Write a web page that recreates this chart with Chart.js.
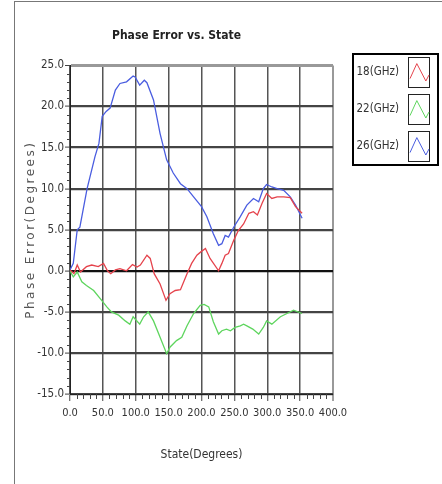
<!DOCTYPE html>
<html>
<head>
<meta charset="utf-8">
<script src="https://cdn.jsdelivr.net/npm/chart.js@4.4.1/dist/chart.umd.min.js"></script>
<style>
html, body { margin: 0; padding: 0; background: #fff; }
#wrap { position: relative; width: 442px; height: 484px; overflow: hidden; }
#frame { position: absolute; left: 14px; top: 1px; width: 440px; height: 490px; border-left: 1px solid #777; border-top: 1px solid #777; }
canvas { position: absolute; left: 0; top: 0; }
</style>
</head>
<body>
<div id="wrap"><div id="frame"></div><canvas id="chart" width="442" height="484"></canvas></div>
<script>
const xTicks = [0, 50, 100, 150, 200, 250, 300, 350, 400];
const yTicks = [-15, -10, -5, 0, 5, 10, 15, 20, 25];
const seriesLabels = ['18(GHz)', '22(GHz)', '26(GHz)'];
const seriesColors = ['#e5434c', '#5ed55e', '#4a5de0'];

const state18 = [0, 6, 11, 16, 25, 33, 43, 51, 57, 62, 69, 76, 86, 95, 102, 107, 117, 122, 128, 137, 146, 152, 160, 168, 178, 185, 193, 199, 206, 213, 226, 231, 236, 241, 249, 256, 264, 272, 279, 285, 292, 299, 307, 315, 325, 335, 343, 353];
const phase18 = [0.1, -0.35, 0.7, -0.15, 0.5, 0.7, 0.5, 0.9, 0, -0.35, 0.1, 0.25, 0, 0.75, 0.45, 0.7, 1.9, 1.5, -0.35, -1.6, -3.6, -2.8, -2.4, -2.3, -0.35, 0.9, 1.9, 2.3, 2.7, 1.5, 0, 0.9, 1.9, 2.1, 3.7, 4.9, 5.7, 7, 7.2, 6.8, 8.2, 9.4, 8.8, 9, 9, 8.9, 7.8, 7];

const state22 = [0, 5, 11, 18, 25, 36, 46, 56, 63, 74, 84, 91, 96, 106, 112, 119, 127, 137, 147, 152, 162, 170, 178, 188, 198, 204, 211, 218, 226, 231, 238, 244, 251, 259, 264, 269, 278, 287, 294, 299, 307, 320, 330, 340, 353];
const phase22 = [0, -0.75, -0.15, -1.35, -1.8, -2.4, -3.4, -4.4, -5, -5.4, -6.1, -6.5, -5.6, -6.5, -5.6, -5, -6.1, -8.1, -10.1, -9.3, -8.5, -8.1, -6.7, -5.2, -4.2, -4.1, -4.4, -6.2, -7.7, -7.3, -7.1, -7.3, -6.9, -6.7, -6.5, -6.7, -7.1, -7.7, -6.9, -6.1, -6.5, -5.6, -5.2, -4.8, -5.2];

const state26 = [0, 5, 11, 15, 26, 38, 44, 49, 55, 61, 69, 76, 86, 96, 99, 106, 113, 117, 127, 137, 147, 157, 168, 178, 188, 200, 208, 218, 226, 231, 236, 241, 249, 259, 269, 279, 287, 294, 299, 307, 315, 325, 335, 343, 353];
const phase26 = [0.1, 0.9, 5, 5.3, 10, 13.9, 15.5, 18.8, 19.4, 19.8, 22, 22.8, 23, 23.7, 23.6, 22.6, 23.2, 22.9, 20.8, 16.7, 13.5, 11.9, 10.6, 10, 9, 7.8, 6.6, 4.5, 3.1, 3.3, 4.3, 4.1, 5.3, 6.6, 8, 8.8, 8.4, 10, 10.5, 10.2, 10, 9.8, 9, 8, 6.4];

const NARROW = "'Liberation Sans Narrow', 'DejaVu Sans Condensed', 'Liberation Sans', sans-serif";
const yTitle = 'Phase Error(Degrees)';

const toPoints = (xs, ys) => xs.map((x, i) => ({ x, y: ys[i] }));
const allSeries = [[state18, phase18], [state22, phase22], [state26, phase26]];

// small ticks between the labelled ones, plus the spaced-out y title
const minorTicks = {
  id: 'minorTicks',
  afterDatasetsDraw(chart) {
    const { ctx, chartArea: a, scales: { x, y } } = chart;
    ctx.save();
    ctx.strokeStyle = '#444';
    ctx.lineWidth = 1;
    for (let v = xTicks[0]; v <= xTicks[xTicks.length - 1]; v += 10) {
      if (xTicks.includes(v)) continue;
      const px = Math.round(x.getPixelForValue(v)) + 0.5;
      ctx.beginPath(); ctx.moveTo(px, a.bottom); ctx.lineTo(px, a.bottom + 5); ctx.stroke();
    }
    for (let v = yTicks[0]; v <= yTicks[yTicks.length - 1]; v += 1) {
      if (yTicks.includes(v)) continue;
      const py = Math.round(y.getPixelForValue(v)) + 0.5;
      ctx.beginPath(); ctx.moveTo(a.left - 3, py); ctx.lineTo(a.left, py); ctx.stroke();
    }
    ctx.translate(31, (a.top + a.bottom) / 2);
    ctx.rotate(-Math.PI / 2);
    ctx.fillStyle = '#555';
    ctx.font = "12px 'DejaVu Sans', sans-serif";
    ctx.letterSpacing = '2.5px';
    ctx.textAlign = 'center';
    ctx.textBaseline = 'middle';
    ctx.fillText(yTitle, 0, 0);
    ctx.restore();
  }
};

// boxed legend on the right, with a little zigzag sample per series
const boxLegend = {
  id: 'boxLegend',
  afterDraw(chart) {
    const { ctx, chartArea: a } = chart;
    const left = a.right + 20, top = 54, w = 85, h = 111;
    ctx.save();
    ctx.strokeStyle = '#000';
    ctx.lineWidth = 2;
    ctx.strokeRect(left, top, w, h);
    chart.data.datasets.forEach((ds, i) => {
      const cy = top + 18 + i * 37;
      ctx.fillStyle = '#333';
      ctx.font = '11.5px ' + NARROW;
      ctx.textAlign = 'right';
      ctx.textBaseline = 'middle';
      ctx.fillText(ds.label, left + 46, cy);
      const bx = left + 55, by = cy - 15, bw = 21, bh = 30;
      ctx.lineWidth = 1;
      ctx.strokeStyle = '#222';
      ctx.strokeRect(bx + 0.5, by + 0.5, bw, bh);
      ctx.strokeStyle = ds.borderColor;
      ctx.beginPath();
      ctx.moveTo(bx + 2, by + bh * 0.72);
      ctx.lineTo(bx + bw * 0.42, by + bh * 0.22);
      ctx.lineTo(bx + bw * 0.85, by + bh * 0.8);
      ctx.lineTo(bx + bw, by + bh * 0.6);
      ctx.stroke();
    });
    ctx.restore();
  }
};

new Chart(document.getElementById('chart'), {
  type: 'scatter',
  data: {
    datasets: allSeries.map(([xs, ys], i) => ({
      label: seriesLabels[i],
      data: toPoints(xs, ys),
      showLine: true,
      borderColor: seriesColors[i],
      backgroundColor: seriesColors[i],
      borderWidth: 1.3,
      pointRadius: 0,
      tension: 0
    }))
  },
  options: {
    responsive: false,
    animation: false,
    layout: { padding: { left: 20, right: 109, top: 18, bottom: 22 } },
    plugins: {
      legend: { display: false },
      tooltip: { enabled: false },
      title: {
        display: true,
        text: 'Phase Error vs. State',
        color: '#222',
        font: { family: NARROW, size: 12, weight: 'bold' },
        padding: { top: 11, bottom: 22 }
      }
    },
    scales: {
      x: {
        type: 'linear',
        min: xTicks[0],
        max: xTicks[xTicks.length - 1],
        afterBuildTicks: s => { s.ticks = xTicks.map(v => ({ value: v })); },
        afterFit: s => { s.height = 68; },
        ticks: { color: '#333', font: { family: NARROW, size: 11 }, padding: 6, maxRotation: 0, autoSkip: false, callback: v => v.toFixed(1) },
        grid: {
          color: c => c.tick && c.tick.value === 400 ? '#999' : '#555',
          lineWidth: c => c.tick && c.tick.value === 400 ? 2 : 1.5,
          tickColor: '#444',
          tickLength: 7,
          tickWidth: 1
        },
        border: { display: true, color: '#222', width: 1 },
        title: { display: true, text: 'State(Degrees)', color: '#333', font: { family: NARROW, size: 12 }, padding: { top: 6, bottom: 0 } }
      },
      y: {
        type: 'linear',
        min: yTicks[0],
        max: yTicks[yTicks.length - 1],
        afterBuildTicks: s => { s.ticks = yTicks.map(v => ({ value: v })); },
        afterFit: s => { s.width = 50; },
        ticks: { color: '#333', font: { family: NARROW, size: 11.5 }, padding: 1, autoSkip: false, callback: v => v.toFixed(1) },
        grid: {
          color: c => !c.tick ? '#444' : c.tick.value === 25 ? '#999' : c.tick.value === 0 ? '#111' : '#444',
          lineWidth: c => c.tick && c.tick.value === 25 ? 3 : 2.2,
          tickColor: '#444',
          tickLength: 5,
          tickWidth: 1
        },
        border: { display: true, color: '#222', width: 1 },
        title: { display: false }
      }
    }
  },
  plugins: [minorTicks, boxLegend]
});
</script>
</body>
</html>
